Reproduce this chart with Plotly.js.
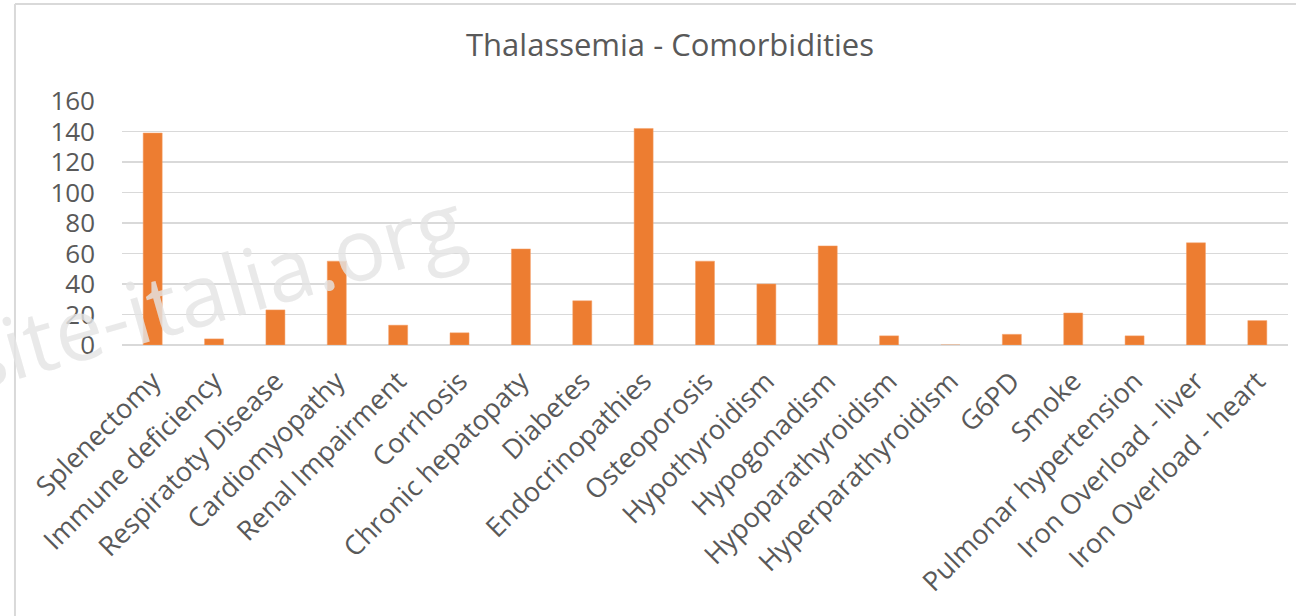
<!DOCTYPE html>
<html>
<head>
<meta charset="utf-8">
<script src="https://cdn.plot.ly/plotly-3.0.1.min.js"></script>
<style>html,body{margin:0;padding:0;background:#fff;}#chart{width:1296px;height:616px;}</style>
</head>
<body>
<div id="chart"></div>
<script>
const categories = ["Splenectomy","Immune deficiency","Respiratoty Disease","Cardiomyopathy","Renal Impairment","Corrhosis","Chronic hepatopaty","Diabetes","Endocrinopathies","Osteoporosis","Hypothyroidism","Hypogonadism","Hypoparathyroidism","Hyperparathyroidism","G6PD","Smoke","Pulmonar hypertension","Iron Overload - liver","Iron Overload - heart"];
const values = [139, 4, 23, 55, 13, 8, 63, 29, 142, 55, 40, 65, 6, 0, 7, 21, 6, 67, 16];
const yTicks = [0, 20, 40, 60, 80, 100, 120, 140, 160];
const titleText = "Thalassemia - Comorbidities";
const watermark = "site-italia.org";

const trace = {
  type: "bar",
  x: categories,
  y: values,
  marker: {color: "#ED7D31", line: {color: "#F4A06A", width: 0.5}},
  hoverinfo: "x+y"
};

const layout = {
  width: 1296, height: 616,
  paper_bgcolor: "#ffffff", plot_bgcolor: "#ffffff",
  margin: {l: 122, r: 8, t: 101, b: 271},
  font: {family: "Open Sans, sans-serif", color: "#595959"},
  title: {text: titleText, x: 0.517, xanchor: "center", y: 0.927, yanchor: "middle",
          font: {size: 31, color: "#595959", family: "Open Sans, sans-serif"}},
  bargap: 0.69,
  showlegend: false,
  xaxis: {
    type: "category", tickangle: -45, automargin: false,
    tickfont: {size: 27, color: "#595959"}, ticklabelstandoff: 14,
    showgrid: false, showline: false, zeroline: false, ticks: ""
  },
  yaxis: {
    range: [0, 160], tickvals: yTicks, automargin: false,
    tickfont: {size: 26, color: "#595959"},
    gridcolor: "#d9d9d9", gridwidth: 1.5,
    zeroline: true, zerolinecolor: "#d9d9d9", zerolinewidth: 1.5,
    showline: false, ticks: "", ticklabelstandoff: 26
  },
  shapes: [
    {type: "line", xref: "paper", yref: "paper", x0: -0.0918, x1: -0.0918, y0: -1.2, y1: 1.3975, line: {color: "#d9d9d9", width: 2}},
    {type: "line", xref: "paper", yref: "paper", x0: -0.0918, x1: 1.01, y0: 1.3975, y1: 1.3975, line: {color: "#d9d9d9", width: 2}}
  ],
  annotations: [
    {text: watermark, xref: "paper", yref: "paper", x: 0.078, y: 0.23, xanchor: "center", yanchor: "middle",
     showarrow: false, textangle: -16,
     font: {size: 86, color: "rgba(228,228,228,0.82)", family: "Open Sans, sans-serif"}}
  ]
};

Plotly.newPlot("chart", [trace], layout, {displayModeBar: false, staticPlot: true});
</script>
</body>
</html>
